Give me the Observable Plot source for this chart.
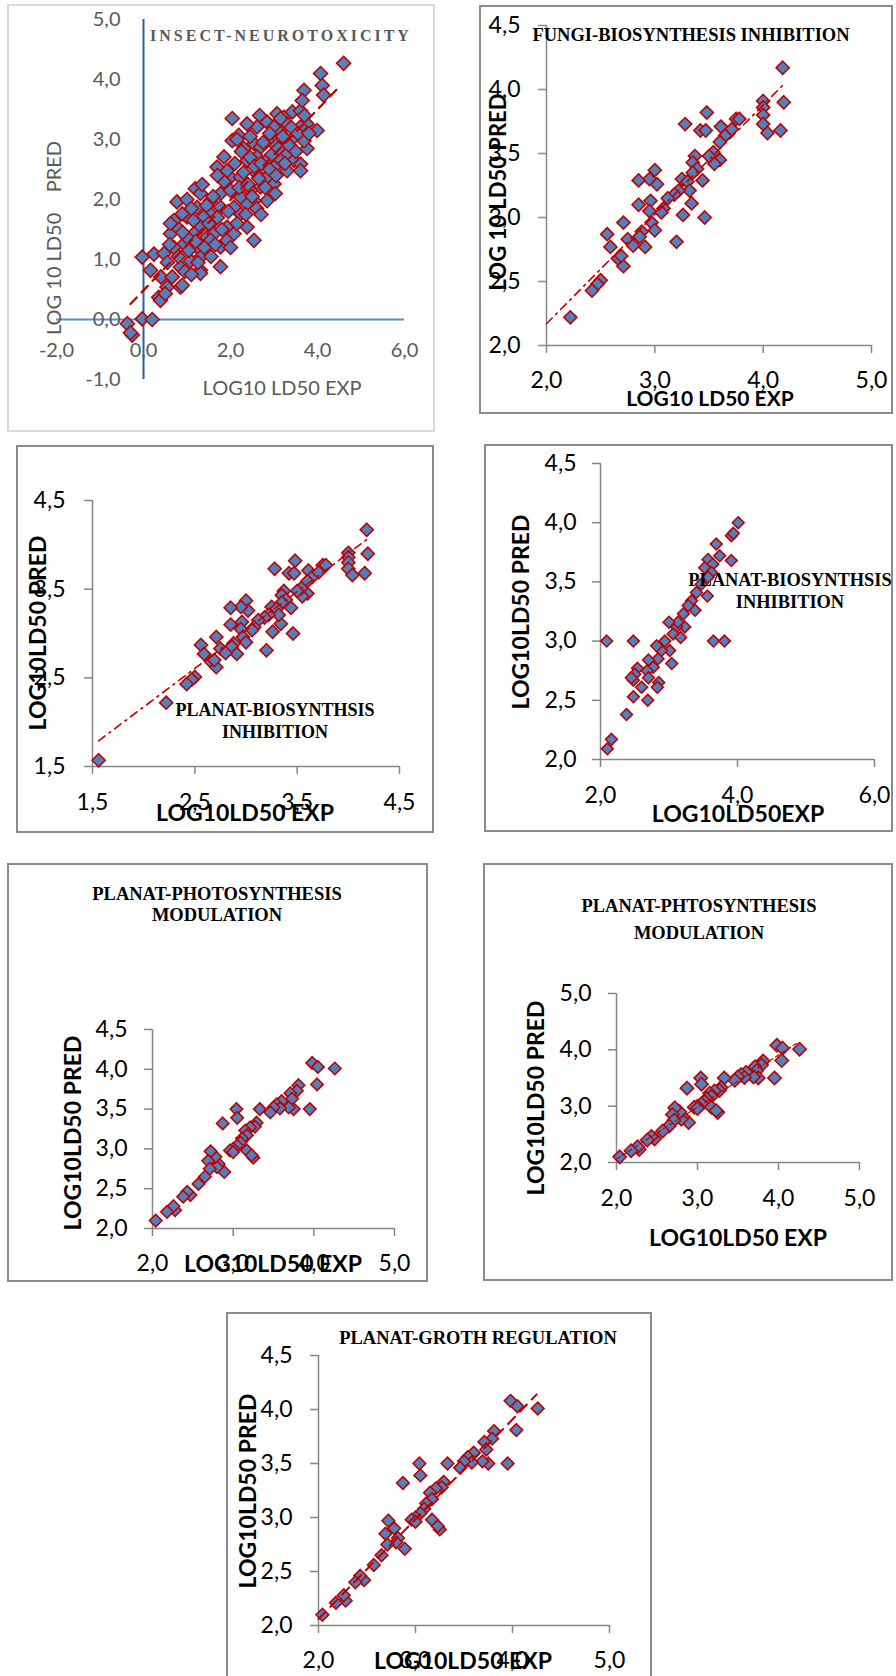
<!DOCTYPE html>
<html><head><meta charset="utf-8">
<script src="https://cdn.jsdelivr.net/npm/d3@7"></script>
<script src="https://cdn.jsdelivr.net/npm/@observablehq/plot@0.6"></script>
<style>
body{margin:0;background:#fff;}
#page{position:relative;width:896px;height:1676px;overflow:hidden;background:#fff;}
.box{position:absolute;box-sizing:border-box;}
.lbl{position:absolute;white-space:pre;line-height:1;}
.ttl{font-family:"Liberation Serif","Times New Roman",serif;font-weight:bold;text-align:center;color:#000;}
.ax{font-family:Lato,"Noto Sans",sans-serif;font-weight:bold;color:#000;}
svg{position:absolute;overflow:visible;}
</style></head><body><div id="page"></div>
<script>
// ---------------- DATA ----------------
// Insect neurotoxicity: [log10 LD50 exp, log10 LD50 pred]
const insectPoints = [
[-0.37,-0.07],[-0.26,-0.26],[-0.30,-0.22],[-0.03,0.01],[0.20,0.0],
[-0.03,1.04],[0.24,1.09],[0.47,1.10],[0.16,0.82],[0.40,0.71],[0.54,0.54],[0.35,0.37],[0.39,0.32],[0.50,0.43],
[0.85,0.54],[0.66,0.71],[0.85,0.87],[1.08,0.98],[1.31,0.82],[1.31,0.77],[0.89,0.57],[1.23,1.21],[0.93,1.26],
[0.62,1.43],[0.77,1.54],[0.70,1.65],[0.62,1.60],[1.00,1.71],[0.89,1.76],[1.23,1.87],[1.19,2.18],[1.31,2.10],
[1.54,1.98],[1.62,1.65],[1.46,1.37],[1.62,1.43],[1.77,1.21],[1.92,1.32],[1.92,1.54],[2.08,1.43],[2.38,1.54],
[2.54,1.32],[2.23,1.76],[2.08,1.87],[1.77,1.87],[1.77,2.10],[2.00,2.37],[2.23,2.37],[1.92,2.48],[1.69,2.54],
[1.85,2.71],[2.04,2.98],[2.19,3.07],[2.31,2.85],[2.54,2.93],[2.69,2.87],[2.61,2.71],[2.38,2.65],[2.84,2.65],
[2.61,2.43],[2.84,2.37],[3.00,2.26],[3.03,2.10],[2.84,1.98],[2.69,2.21],[2.46,2.15],[2.54,1.98],[2.38,1.93],
[2.23,2.04],[1.54,1.76],[1.38,1.71],[1.31,1.54],[1.16,1.43],[1.00,1.37],[1.04,1.15],[1.31,1.04],[1.54,1.32],
[0.77,1.96],[1.77,0.88],[2.04,3.35],[2.67,3.40],[2.84,3.29],[3.07,3.43],[3.23,3.37],[3.42,3.46],[3.61,3.48],
[3.69,3.82],[3.65,3.65],[3.00,3.21],[3.15,3.10],[3.30,3.26],[3.23,2.93],[3.00,2.93],[2.84,2.98],[3.30,2.76],
[3.15,2.65],[3.46,2.65],[3.61,2.59],[3.61,2.48],[3.00,2.54],[3.30,2.48],[3.76,2.85],[3.69,2.98],[3.99,3.15],
[3.76,3.26],[3.61,3.21],[3.46,3.04],[2.61,3.21],[2.38,3.26],[4.07,4.10],[4.11,3.90],[4.14,3.74],[4.60,4.27],
[0.55,0.95],[0.70,1.20],[0.80,1.05],[0.95,0.80],[1.10,0.75],[1.15,1.65],[1.20,1.30],[1.40,1.20],[1.45,1.90],
[1.50,1.60],[1.60,2.05],[1.65,1.25],[1.70,1.70],[1.80,1.50],[1.85,2.30],[1.95,1.80],[2.00,2.15],[2.10,2.60],
[2.15,1.60],[2.20,2.20],[2.30,2.45],[2.35,1.75],[2.40,2.25],[2.45,2.70],[2.50,2.05],[2.55,2.55],[2.60,1.85],
[2.65,2.35],[2.70,2.60],[2.75,2.95],[2.80,2.20],[2.90,2.50],[2.95,2.75],[3.05,2.40],[3.10,2.85],[3.20,3.05],
[3.25,2.60],[3.35,2.90],[3.40,3.20],[3.50,2.80],[1.00,2.00],[0.60,1.25],[1.25,0.95],[1.55,1.05],[2.25,2.80],
[2.45,3.05],[1.10,1.85],[0.90,1.45],[1.35,2.25],[2.00,1.20],[2.70,1.75],[3.15,3.35],[2.90,3.10],[3.55,3.10],
[3.70,3.40],[3.80,3.10],[1.70,2.40],[2.15,3.00]
];
const insectTrendX = [-0.30, 4.53];
const insectTrendY = [0.26, 3.90];

// Fungi biosynthesis inhibition
const fungiPoints = [
[4.18,4.17],[4.19,3.90],[4.16,3.68],[4.00,3.91],[4.00,3.86],[4.00,3.80],[4.00,3.73],[4.04,3.66],[3.75,3.77],
[3.78,3.77],[3.48,3.82],[3.28,3.73],[3.42,3.68],[3.47,3.68],[3.61,3.71],[3.65,3.64],[3.71,3.69],[3.60,3.59],
[3.60,3.45],[3.55,3.42],[3.54,3.51],[3.50,3.48],[3.37,3.48],[3.35,3.43],[3.39,3.38],[3.35,3.35],[3.44,3.29],
[3.25,3.30],[3.30,3.28],[3.34,3.11],[3.32,3.21],[3.26,3.02],[3.46,3.00],[3.20,2.81],[3.22,3.21],[3.18,3.18],
[3.12,3.15],[3.08,3.07],[3.06,3.04],[3.00,3.37],[3.02,3.26],[2.95,3.30],[2.85,3.29],[2.96,3.13],[2.95,3.05],
[2.85,3.10],[2.97,2.96],[3.00,2.90],[2.71,2.96],[2.88,2.89],[2.86,2.85],[2.91,2.77],[2.75,2.83],[2.80,2.78],
[2.56,2.87],[2.59,2.77],[2.66,2.68],[2.71,2.62],[2.69,2.70],[2.50,2.51],[2.47,2.48],[2.42,2.43],[2.22,2.22]
];
const fungiTrendX = [2.0, 4.2];
const fungiTrendY = [2.17, 4.05];

// Plant biosynthesis inhibition (left panel)
const plantBioPointsA = fungiPoints.concat([[1.56,1.57]]);
const plantBioTrendX = [1.56, 4.19];
const plantBioTrendY = [1.79, 4.07];

// Plant biosynthesis inhibition (right panel)
const plantBioPointsB = [
[4.01,4.00],[3.91,3.89],[3.94,3.91],[3.91,3.68],[3.69,3.82],[3.74,3.72],[3.57,3.69],[3.64,3.65],[3.52,3.62],
[3.62,3.58],[3.57,3.54],[3.56,3.38],[3.47,3.48],[3.40,3.41],[3.38,3.26],[3.33,3.34],[3.28,3.30],[3.21,3.23],
[3.23,3.12],[3.11,3.12],[3.13,3.16],[3.00,3.16],[3.06,3.06],[3.17,3.03],[2.94,3.00],[3.01,2.92],[3.04,2.81],
[2.89,2.92],[2.82,2.96],[2.84,2.85],[2.77,2.78],[2.85,2.65],[2.83,2.61],[2.70,2.84],[2.68,2.75],[2.70,2.69],
[2.60,2.61],[2.54,2.77],[2.50,2.72],[2.48,2.67],[2.45,2.69],[2.48,2.53],[2.69,2.50],[2.38,2.38],[2.16,2.17],
[2.10,2.09],[2.09,3.00],[2.48,3.00],[3.65,3.00],[3.81,3.00]
];

// Plant photosynthesis modulation / growth regulation
const photoPoints = [
[3.98,4.08],[4.05,4.03],[4.26,4.01],[4.04,3.81],[3.95,3.50],[3.81,3.80],[3.79,3.73],[3.71,3.70],[3.73,3.63],
[3.75,3.50],[3.69,3.52],[3.60,3.60],[3.54,3.56],[3.58,3.51],[3.50,3.52],[3.46,3.46],[3.33,3.50],[3.29,3.33],
[3.27,3.28],[3.21,3.27],[3.15,3.23],[3.17,3.17],[3.11,3.13],[3.09,3.08],[3.05,3.04],[3.04,3.50],[3.05,3.39],
[3.00,3.00],[2.96,2.98],[3.00,2.96],[3.17,2.98],[3.25,2.89],[3.23,2.92],[2.87,3.32],[2.89,2.71],[2.82,2.81],
[2.80,2.77],[2.78,2.90],[2.72,2.97],[2.69,2.85],[2.71,2.75],[2.65,2.65],[2.57,2.56],[2.47,2.42],[2.43,2.46],
[2.38,2.40],[2.28,2.23],[2.26,2.28],[2.18,2.21],[2.04,2.10]
];
const photoTrendX = [2.0, 4.25];
const photoTrendY = [2.06, 4.14];

// Tick values
const ticksInsectX = [-2, 0, 2, 4, 6];
const ticksInsectY = [-1, 0, 1, 2, 3, 4, 5];
const ticksTwoToFive = [2, 3, 4, 5];
const ticksHalf = [2, 2.5, 3, 3.5, 4, 4.5];
const ticksOdd = [1.5, 2.5, 3.5, 4.5];
const ticksEven = [2, 4, 6];
const ticksWhole = [2, 3, 4, 5];

// ---------------- DRAW ----------------
const RED = "#c00000", BLUE = "#4f81bd", AXG = "#868686";
const fmt = d => d.toFixed(1).replace(".", ",");
const page = document.getElementById("page");
const xy = {x: d => d[0], y: d => d[1]};
const pairs = (xs, ys) => xs.map((x, i) => [x, ys[i]]);

function label(text, cx, cy, cls, css, rot) {
  const el = document.createElement("div");
  el.className = "lbl " + cls;
  el.textContent = text;
  Object.assign(el.style, css || {});
  el.style.left = cx + "px"; el.style.top = cy + "px";
  el.style.transform = "translate(-50%,-50%)" + (rot ? " rotate(-90deg)" : "");
  page.appendChild(el);
}

function drawPanel(p) {
  const [l, t, r, b] = p.box;
  const bx = document.createElement("div");
  bx.className = "box";
  Object.assign(bx.style, {left: l + "px", top: t + "px", width: (r - l) + "px", height: (b - t) + "px", border: p.border});
  page.appendChild(bx);
  const [fx0, fx1, fyT, fyB] = p.frame;
  const svg = Plot.plot({
    width: r - l, height: b - t,
    marginLeft: fx0 - l, marginRight: r - fx1, marginTop: fyT - t, marginBottom: b - fyB,
    x: {domain: p.xDomain, axis: null},
    y: {domain: p.yDomain, axis: null},
    style: {background: "transparent", overflow: "visible", fontFamily: "Lato, 'Noto Sans', sans-serif"},
    marks: p.marks
  });
  svg.style.left = l + "px"; svg.style.top = t + "px";
  page.appendChild(svg);
}

function stdMarks(o) {
  return [
    Plot.ruleX([o.xDomain[0]], {stroke: AXG, strokeWidth: 1.5}),
    Plot.ruleY([o.yDomain[0]], {stroke: AXG, strokeWidth: 1.5}),
    Plot.axisX(o.xt, {tickSize: 8, tickFormat: () => "", stroke: AXG, strokeWidth: 1.5, label: null}),
    Plot.axisY(o.yt, {tickSize: 8, tickFormat: () => "", stroke: AXG, strokeWidth: 1.5, label: null}),
    Plot.text(o.xt, {x: d => d, frameAnchor: "bottom", dy: o.xDy, text: fmt, fontSize: o.fs, fill: "#000", lineAnchor: "middle"}),
    Plot.text(o.yt, {y: d => d, frameAnchor: "left", dx: -o.yDx, text: fmt, fontSize: o.fs, fill: "#000", textAnchor: "end", lineAnchor: "middle"})
  ];
}
function dots(data, r) {
  return Plot.dot(data, {...xy, symbol: "diamond2", r, fill: BLUE, stroke: RED, strokeWidth: 1.6});
}
function trend(xs, ys, dash, w) {
  return Plot.line(pairs(xs, ys), {...xy, stroke: RED, strokeWidth: w, strokeDasharray: dash});
}

// Panel 1: insect neurotoxicity
drawPanel({
  box: [7, 4, 435, 432], frame: [56, 404, 19, 379], xDomain: [-2, 6], yDomain: [-1, 5],
  border: "2px solid #d9d9d9",
  marks: [
    Plot.ruleX([0], {y1: -1, y2: 5, stroke: "#2f5f98", strokeWidth: 2}),
    Plot.ruleY([0], {x1: -2, x2: 6, stroke: "#5b8cc8", strokeWidth: 2}),
    Plot.text(ticksInsectX, {x: d => d, y: () => 0, dy: 31, text: fmt, fontSize: 20, fill: "#595959", lineAnchor: "middle"}),
    Plot.text(ticksInsectY, {x: () => 0, y: d => d, dx: -23, text: fmt, fontSize: 20, fill: "#595959", textAnchor: "end", lineAnchor: "middle"}),
    dots(insectPoints, 6.3),
    trend(insectTrendX, insectTrendY, "9,7", 2.2)
  ]
});
label("INSECT-NEUROTOXICITY", 281, 36, "ttl", {fontSize: "16px", letterSpacing: "3px", color: "#595959"});
label("LOG10 LD50 EXP", 282, 387, "ax", {fontSize: "20px", fontWeight: "normal", color: "#595959"});
label("LOG 10 LD50    PRED", 53, 238, "ax", {fontSize: "20px", fontWeight: "normal", color: "#595959"}, true);

// Panel 2: fungi
drawPanel({
  box: [479, 5, 893, 414], frame: [546, 871, 25, 345], xDomain: [2, 5], yDomain: [2, 4.5],
  border: "2px solid #8a8a8a",
  marks: [
    ...stdMarks({xDomain: [2, 5], yDomain: [2, 4.5], xt: ticksTwoToFive, yt: ticksHalf, xDy: 35, yDx: 26, fs: 23}),
    dots(fungiPoints, 5.9),
    trend(fungiTrendX, fungiTrendY, "8,5,2,5", 1.6)
  ]
});
label("FUNGI-BIOSYNTHESIS INHIBITION", 691, 35, "ttl", {fontSize: "18.5px"});
label("LOG10 LD50 EXP", 710, 397, "ax", {fontSize: "21px"});
label("LOG 10 LD50 PRED", 498, 192, "ax", {fontSize: "22px"}, true);

// Panel 3: plant biosynthesis (left)
drawPanel({
  box: [16, 445, 434, 833], frame: [92, 399, 500, 766], xDomain: [1.5, 4.5], yDomain: [1.5, 4.5],
  border: "2px solid #8a8a8a",
  marks: [
    ...stdMarks({xDomain: [1.5, 4.5], yDomain: [1.5, 4.5], xt: ticksOdd, yt: ticksOdd, xDy: 36, yDx: 27, fs: 23}),
    dots(plantBioPointsA, 5.9),
    trend(plantBioTrendX, plantBioTrendY, "8,5,2,5", 1.6)
  ]
});
label("PLANAT-BIOSYNTHSIS\nINHIBITION", 275, 721, "ttl", {fontSize: "18px", lineHeight: "22px"});
label("LOG10LD50 EXP", 245, 812, "ax", {fontSize: "23px"});
label("LOG10LD50 PRED", 37, 633, "ax", {fontSize: "23px"}, true);

// Panel 4: plant biosynthesis (right)
drawPanel({
  box: [484, 444, 893, 832], frame: [600, 874, 463, 759], xDomain: [2, 6], yDomain: [2, 4.5],
  border: "2px solid #8a8a8a",
  marks: [
    ...stdMarks({xDomain: [2, 6], yDomain: [2, 4.5], xt: ticksEven, yt: ticksHalf, xDy: 36, yDx: 24, fs: 23}),
    dots(plantBioPointsB, 5.3)
  ]
});
label("PLANAT-BIOSYNTHSIS\nINHIBITION", 790, 591, "ttl", {fontSize: "18.4px", lineHeight: "22px"});
label("LOG10LD50EXP", 738, 813, "ax", {fontSize: "23px"});
label("LOG10LD50 PRED", 520, 612, "ax", {fontSize: "23px"}, true);

// Panel 5: photosynthesis (left)
drawPanel({
  box: [7, 863, 428, 1282], frame: [152, 394, 1029, 1228], xDomain: [2, 5], yDomain: [2, 4.5],
  border: "2px solid #8a8a8a",
  marks: [
    ...stdMarks({xDomain: [2, 5], yDomain: [2, 4.5], xt: ticksTwoToFive, yt: ticksHalf, xDy: 35, yDx: 25, fs: 23}),
    dots(photoPoints, 5.6)
  ]
});
label("PLANAT-PHOTOSYNTHESIS\nMODULATION", 217, 905, "ttl", {fontSize: "18.5px", lineHeight: "21px"});
label("LOG10LD50 EXP", 273, 1263, "ax", {fontSize: "23px"});
label("LOG10LD50 PRED", 72, 1133, "ax", {fontSize: "23px"}, true);

// Panel 6: photosynthesis (right)
drawPanel({
  box: [483, 863, 893, 1281], frame: [616, 859, 993, 1162], xDomain: [2, 5], yDomain: [2, 5],
  border: "2px solid #8a8a8a",
  marks: [
    ...stdMarks({xDomain: [2, 5], yDomain: [2, 5], xt: ticksWhole, yt: ticksWhole, xDy: 36, yDx: 25, fs: 23}),
    dots(photoPoints, 6.0),
    trend(photoTrendX, photoTrendY, "4,3", 1.2)
  ]
});
label("PLANAT-PHTOSYNTHESIS\nMODULATION", 699, 920, "ttl", {fontSize: "18.5px", lineHeight: "27px"});
label("LOG10LD50 EXP", 738, 1237, "ax", {fontSize: "23px"});
label("LOG10LD50 PRED", 535, 1098, "ax", {fontSize: "23px"}, true);

// Panel 7: growth regulation
drawPanel({
  box: [226, 1312, 652, 1680], frame: [318, 609, 1355, 1625], xDomain: [2, 5], yDomain: [2, 4.5],
  border: "2px solid #8a8a8a",
  marks: [
    ...stdMarks({xDomain: [2, 5], yDomain: [2, 4.5], xt: ticksTwoToFive, yt: ticksHalf, xDy: 35, yDx: 26, fs: 23}),
    dots(photoPoints, 5.7),
    trend(photoTrendX, photoTrendY, "10,7", 2)
  ]
});
label("PLANAT-GROTH REGULATION", 478, 1338, "ttl", {fontSize: "18.5px"});
label("LOG10LD50 EXP", 463, 1660, "ax", {fontSize: "23px"});
label("LOG10LD50 PRED", 247, 1491, "ax", {fontSize: "23px"}, true);
</script>
</body></html>
